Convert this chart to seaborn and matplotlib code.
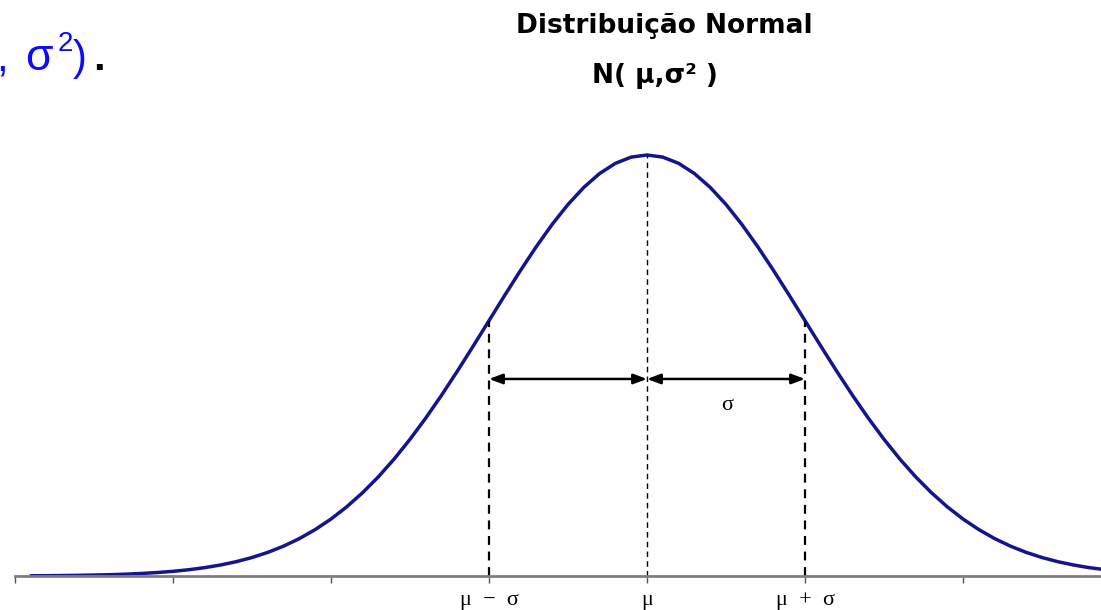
import matplotlib
matplotlib.use("Agg")
import matplotlib.pyplot as plt
import seaborn as sns

# curve: x in units of sigma from the mean, height relative to the peak
x_sigma = [-3.9, -3.8, -3.7, -3.6, -3.5, -3.4, -3.3, -3.2, -3.1, -3.0,
           -2.9, -2.8, -2.7, -2.6, -2.5, -2.4, -2.3, -2.2, -2.1, -2.0,
           -1.9, -1.8, -1.7, -1.6, -1.5, -1.4, -1.3, -1.2, -1.1, -1.0,
           -0.9, -0.8, -0.7, -0.6, -0.5, -0.4, -0.3, -0.2, -0.1, 0.0,
           0.1, 0.2, 0.3, 0.4, 0.5, 0.6, 0.7, 0.8, 0.9, 1.0,
           1.1, 1.2, 1.3, 1.4, 1.5, 1.6, 1.7, 1.8, 1.9, 2.0,
           2.1, 2.2, 2.3, 2.4, 2.5, 2.6, 2.7, 2.8, 2.9]
height = [0.0005, 0.0007, 0.0011, 0.0015, 0.0022, 0.0031, 0.0043, 0.0060, 0.0082, 0.0111,
          0.0149, 0.0198, 0.0261, 0.0340, 0.0439, 0.0561, 0.0710, 0.0889, 0.1103, 0.1353,
          0.1645, 0.1979, 0.2357, 0.2780, 0.3247, 0.3753, 0.4296, 0.4868, 0.5461, 0.6065,
          0.6670, 0.7261, 0.7827, 0.8353, 0.8825, 0.9231, 0.9560, 0.9802, 0.9950, 1.0000,
          0.9950, 0.9802, 0.9560, 0.9231, 0.8825, 0.8353, 0.7827, 0.7261, 0.6670, 0.6065,
          0.5461, 0.4868, 0.4296, 0.3753, 0.3247, 0.2780, 0.2357, 0.1979, 0.1645, 0.1353,
          0.1103, 0.0889, 0.0710, 0.0561, 0.0439, 0.0340, 0.0261, 0.0198, 0.0149]

mark_pos = [-1, 0, 1]
mark_height = [0.6065, 1.0, 0.6065]
tick_pos = [-4, -3, -2, -1, 0, 1, 2]
tick_labels = ['', '', '', 'μ  −  σ', 'μ', 'μ  +  σ', '']
arrow_level = 0.468

W, H = 1101, 610

sns.set_style('white')
fig = plt.figure(figsize=(W / 100, H / 100), dpi=100)

ax = fig.add_axes([15 / W, 34 / H, (W - 15) / W, 476 / H])
sns.lineplot(x=x_sigma, y=height, ax=ax, color='#14148c', lw=2.5)

ax.set_xlim(-4, (W - 647) / 158)
ax.set_ylim(0, 476 / 421)

# dashed guides at the mean and one sigma either side
for p, h in zip(mark_pos, mark_height):
    lw = 1.0 if p == 0 else 1.6
    ax.plot([p, p], [0, h], color='black', lw=lw, ls=(0, (4, 3)))

# double arrows showing sigma
for a, b in [(-1, 0), (0, 1)]:
    ax.annotate('', xy=(a, arrow_level), xytext=(b, arrow_level),
                arrowprops=dict(arrowstyle='<|-|>,head_length=0.8,head_width=0.3',
                                color='black', lw=1.8, shrinkA=0, shrinkB=0))
ax.text(0.51, 0.406, 'σ', ha='center', va='center', fontsize=16, color='black',
        family=['Liberation Serif', 'DejaVu Serif'])

ax.set_xticks(tick_pos)
ax.set_xticklabels(tick_labels, fontsize=16, family=['Liberation Serif', 'DejaVu Serif'])
ax.set_yticks([])
ax.tick_params(axis='x', direction='out', length=5, width=1, colors='#555555',
               labelcolor='black', pad=6, bottom=True)
for s in ['top', 'left', 'right']:
    ax.spines[s].set_visible(False)
ax.spines['bottom'].set_color('#808080')
ax.spines['bottom'].set_linewidth(2)


def px(x, y):
    return x / W, 1 - y / H


# titles
fig.text(*px(664, 33), 'Distribuição Normal', ha='center', va='baseline', color='black',
         fontsize=19, fontweight='bold', family='DejaVu Sans')
fig.text(*px(655, 83), 'N( μ,σ² )', ha='center', va='baseline', color='black',
         fontsize=19, fontweight='bold', family='DejaVu Sans')

# cut-off slide text in the corner
blue = '#0a0aff'
fig.text(*px(-4, 70), ',', color=blue, fontsize=30, va='baseline', family='Liberation Sans')
fig.text(*px(25, 70), 'σ', color=blue, fontsize=32, va='baseline', family='Liberation Sans')
fig.text(*px(58, 51), '2', color=blue, fontsize=20, va='baseline', family='Liberation Sans')
fig.text(*px(73, 70), ')', color=blue, fontsize=30, va='baseline', family='Liberation Sans')
fig.text(*px(93, 70), '.', color='black', fontsize=30, fontweight='bold', va='baseline',
         family='Liberation Sans')

fig.savefig('out.png', dpi=100)
